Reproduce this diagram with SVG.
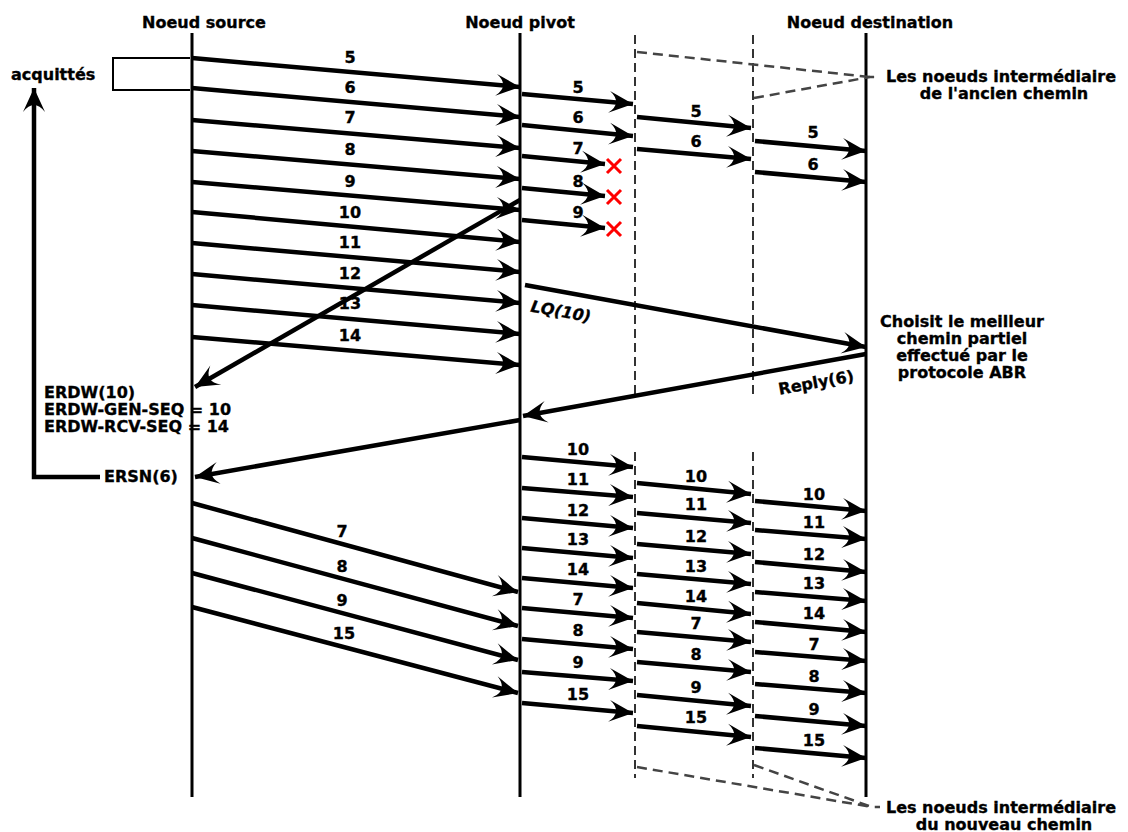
<svg xmlns="http://www.w3.org/2000/svg" width="1128" height="832" viewBox="0 0 1128 832">
<style>
text{font-family:"DejaVu Sans","Liberation Sans",sans-serif;font-weight:bold;font-size:16px;fill:#000;stroke:#000;stroke-width:0.35}
.lbl{text-anchor:middle}
.life{stroke:#000;stroke-width:3;fill:none}
.dash{stroke:#333;stroke-width:2;stroke-dasharray:9 5;fill:none}
.call{stroke:#444;stroke-width:2.5;stroke-dasharray:10 6;fill:none}
.msg{stroke:#000;stroke-width:4.5;fill:none;marker-end:url(#ah)}
.x{stroke:#f00;stroke-width:3;fill:none}
</style>
<defs>
<marker id="ah" markerUnits="userSpaceOnUse" markerWidth="26" markerHeight="24" viewBox="0 0 26 24" refX="25" refY="12" orient="auto">
<path d="M1,1 L25,12 L1,23 Q15,12 1,1 Z" fill="#000"/>
</marker>
</defs>
<rect width="1128" height="832" fill="#fff"/>

<g id="node-source">
<text class="lbl" x="204" y="28">Noeud source</text>
<line class="life" x1="192" y1="33" x2="192" y2="797"/>
</g>
<g id="node-pivot">
<text class="lbl" x="520" y="28">Noeud pivot</text>
<line class="life" x1="520" y1="33" x2="520" y2="797"/>
</g>
<g id="node-destination">
<text class="lbl" x="870" y="28">Noeud destination</text>
<line class="life" x1="866" y1="33" x2="866" y2="797"/>
</g>
<g id="old-intermediates">
<line class="dash" x1="635" y1="35" x2="635" y2="398"/>
<line class="dash" x1="753" y1="35" x2="753" y2="398"/>
</g>
<g id="new-intermediates">
<line class="dash" x1="635" y1="452" x2="635" y2="778"/>
<line class="dash" x1="753" y1="452" x2="753" y2="778"/>
</g>
<g id="note-old">
<path class="call" d="M637,52 L870,77 M754,98 L870,77 L880,77"/>
<text class="lbl" x="1001" y="82">Les noeuds intermédiaire</text>
<text class="lbl" x="1004" y="99">de l'ancien chemin</text>
</g>
<g id="note-new">
<path class="call" d="M637,767 L872,807 M754,765 L872,807 L880,807"/>
<text class="lbl" x="1001" y="813">Les noeuds intermédiaire</text>
<text class="lbl" x="1004" y="830">du nouveau chemin</text>
</g>
<g id="note-choice">
<text class="lbl" x="962" y="327">Choisit le meilleur</text>
<text class="lbl" x="962" y="344">chemin partiel</text>
<text class="lbl" x="962" y="361">effectué par le</text>
<text class="lbl" x="962" y="378">protocole ABR</text>
</g>
<g id="note-ack">
<path d="M190,58 H113 V90 H190" stroke="#000" stroke-width="2" fill="none"/>
<text x="11" y="80">acquittés</text>
</g>
<g id="note-erdw">
<text x="44" y="398">ERDW(10)</text>
<text x="44" y="415">ERDW-GEN-SEQ = 10</text>
<text x="44" y="432">ERDW-RCV-SEQ = 14</text>
</g>

<g id="connectors">
<line class="msg" x1="192" y1="58" x2="520" y2="87"/><text class="lbl" x="350" y="63">5</text>
<line class="msg" x1="192" y1="88" x2="520" y2="117"/><text class="lbl" x="350" y="93">6</text>
<line class="msg" x1="192" y1="120" x2="520" y2="148"/><text class="lbl" x="350" y="123">7</text>
<line class="msg" x1="192" y1="151" x2="520" y2="179"/><text class="lbl" x="350" y="155">8</text>
<line class="msg" x1="192" y1="182" x2="520" y2="210"/><text class="lbl" x="350" y="187">9</text>
<line class="msg" x1="192" y1="212" x2="520" y2="242"/><text class="lbl" x="350" y="218">10</text>
<line class="msg" x1="192" y1="243" x2="520" y2="272"/><text class="lbl" x="350" y="248">11</text>
<line class="msg" x1="192" y1="274" x2="520" y2="303"/><text class="lbl" x="350" y="279">12</text>
<line class="msg" x1="192" y1="305" x2="520" y2="334"/><text class="lbl" x="350" y="309">13</text>
<line class="msg" x1="192" y1="337" x2="520" y2="365"/><text class="lbl" x="350" y="341">14</text>
<line class="msg" x1="520" y1="200" x2="195" y2="387"/>
<line class="msg" x1="522" y1="94" x2="633" y2="104"/><text class="lbl" x="578" y="93">5</text>
<line class="msg" x1="522" y1="125" x2="633" y2="136"/><text class="lbl" x="578" y="123">6</text>
<line class="msg" x1="522" y1="156" x2="605" y2="164"/><text class="lbl" x="578" y="154">7</text>
<line class="msg" x1="522" y1="188" x2="605" y2="196"/><text class="lbl" x="578" y="187">8</text>
<line class="msg" x1="522" y1="220" x2="605" y2="228"/><text class="lbl" x="578" y="218">9</text>
<path class="x" d="M607,159 L621,173 M621,159 L607,173"/>
<path class="x" d="M607,190 L621,204 M621,190 L607,204"/>
<path class="x" d="M607,222 L621,236 M621,222 L607,236"/>
<line class="msg" x1="637" y1="117" x2="751" y2="128"/><text class="lbl" x="696" y="117">5</text>
<line class="msg" x1="637" y1="149" x2="751" y2="159"/><text class="lbl" x="696" y="147">6</text>
<line class="msg" x1="755" y1="141" x2="866" y2="151"/><text class="lbl" x="813" y="138">5</text>
<line class="msg" x1="755" y1="172" x2="866" y2="182"/><text class="lbl" x="813" y="170">6</text>
<line class="msg" x1="525" y1="285" x2="866" y2="347"/>
<text class="lbl" x="561" y="317" font-style="italic" transform="rotate(10.3 561 311)">LQ(10)</text>
<line class="msg" x1="866" y1="354" x2="523" y2="416"/>
<text class="lbl" x="816" y="388" transform="rotate(-10.2 816 382)">Reply(6)</text>
<line class="msg" x1="520" y1="420" x2="195" y2="477"/>
<path class="msg" d="M100,477 H34 V88"/>
<text x="104" y="482">ERSN(6)</text>
<line class="msg" x1="192" y1="503" x2="518" y2="592"/><text class="lbl" x="342" y="537">7</text>
<line class="msg" x1="192" y1="538" x2="518" y2="626"/><text class="lbl" x="342" y="572">8</text>
<line class="msg" x1="192" y1="573" x2="518" y2="660"/><text class="lbl" x="342" y="606">9</text>
<line class="msg" x1="192" y1="607" x2="518" y2="693"/><text class="lbl" x="344" y="639">15</text>
<line class="msg" x1="522" y1="457" x2="633" y2="467"/><text class="lbl" x="578" y="455">10</text>
<line class="msg" x1="522" y1="488" x2="633" y2="497"/><text class="lbl" x="578" y="485">11</text>
<line class="msg" x1="522" y1="518" x2="633" y2="528"/><text class="lbl" x="578" y="516">12</text>
<line class="msg" x1="522" y1="548" x2="633" y2="558"/><text class="lbl" x="578" y="545">13</text>
<line class="msg" x1="522" y1="578" x2="633" y2="588"/><text class="lbl" x="578" y="575">14</text>
<line class="msg" x1="522" y1="608" x2="633" y2="618"/><text class="lbl" x="578" y="605">7</text>
<line class="msg" x1="522" y1="639" x2="633" y2="649"/><text class="lbl" x="578" y="636">8</text>
<line class="msg" x1="522" y1="672" x2="633" y2="681"/><text class="lbl" x="578" y="668">9</text>
<line class="msg" x1="522" y1="703" x2="633" y2="713"/><text class="lbl" x="578" y="700">15</text>
<line class="msg" x1="637" y1="483" x2="751" y2="494"/><text class="lbl" x="696" y="482">10</text>
<line class="msg" x1="637" y1="513" x2="751" y2="523"/><text class="lbl" x="696" y="510">11</text>
<line class="msg" x1="637" y1="544" x2="751" y2="554"/><text class="lbl" x="696" y="542">12</text>
<line class="msg" x1="637" y1="574" x2="751" y2="584"/><text class="lbl" x="696" y="572">13</text>
<line class="msg" x1="637" y1="603" x2="751" y2="614"/><text class="lbl" x="696" y="602">14</text>
<line class="msg" x1="637" y1="632" x2="751" y2="642"/><text class="lbl" x="696" y="629">7</text>
<line class="msg" x1="637" y1="662" x2="751" y2="672"/><text class="lbl" x="696" y="660">8</text>
<line class="msg" x1="637" y1="695" x2="751" y2="706"/><text class="lbl" x="696" y="693">9</text>
<line class="msg" x1="637" y1="726" x2="751" y2="737"/><text class="lbl" x="696" y="723">15</text>
<line class="msg" x1="755" y1="501" x2="866" y2="511"/><text class="lbl" x="814" y="500">10</text>
<line class="msg" x1="755" y1="530" x2="866" y2="539"/><text class="lbl" x="814" y="528">11</text>
<line class="msg" x1="755" y1="562" x2="866" y2="572"/><text class="lbl" x="814" y="560">12</text>
<line class="msg" x1="755" y1="592" x2="866" y2="601"/><text class="lbl" x="814" y="589">13</text>
<line class="msg" x1="755" y1="622" x2="866" y2="632"/><text class="lbl" x="814" y="619">14</text>
<line class="msg" x1="755" y1="652" x2="866" y2="661"/><text class="lbl" x="814" y="650">7</text>
<line class="msg" x1="755" y1="684" x2="866" y2="693"/><text class="lbl" x="814" y="682">8</text>
<line class="msg" x1="755" y1="716" x2="866" y2="726"/><text class="lbl" x="814" y="715">9</text>
<line class="msg" x1="755" y1="748" x2="866" y2="758"/><text class="lbl" x="814" y="746">15</text>
</g>
</svg>
